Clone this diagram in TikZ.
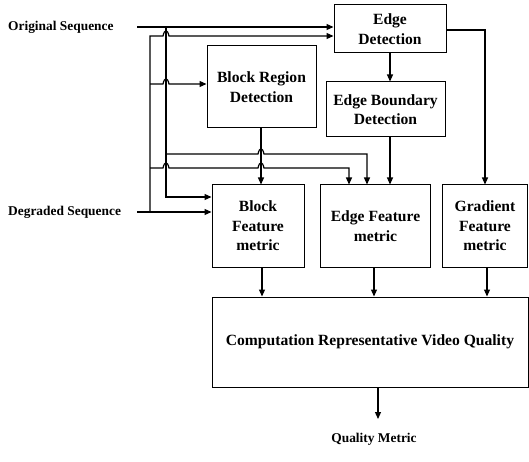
\documentclass[tikz,border=0pt]{standalone}
\usepackage{fontspec}
\setmainfont{Liberation Serif}
\usetikzlibrary{arrows.meta,calc}
\begin{document}
\begin{tikzpicture}[x=1pt,y=-1pt,
  box/.style args={#1/#2}{draw, line width=1pt, minimum width=#1pt, minimum height=#2pt,
    inner sep=0pt, align=center, font=\fontsize{15.6}{19.5}\selectfont\bfseries},
  lbl/.style={inner sep=0pt, font=\fontsize{13.4}{15}\selectfont\bfseries},
  arr/.style={line width=1.2pt, -{Triangle[length=7pt,width=6pt]}},
  ln/.style={line width=1.2pt}]
\useasboundingbox (0,0) rectangle (529,462);

% boxes
\node[box=112/48] (ed) at (390,29) {Edge\\Detection};
\node[box=109/82] (brd) at (261.5,87) {Block Region\\Detection};
\node[box=119/55] (ebd) at (385.5,109.5) {Edge Boundary\\Detection};
\node[box=92/82] (bfm) at (258,226) {Block\\Feature\\metric};
\node[box=110/82] (efm) at (375.5,226) {Edge Feature\\metric};
\node[box=85/82] (gfm) at (485,226) {Gradient\\Feature\\metric};
\node[box=316/90] (cvq) at (370,342) {Computation Representative Video Quality};

% labels
\node[lbl, anchor=west] (os) at (8,27) {Original Sequence};
\node[lbl, anchor=west] (ds) at (8,212) {Degraded Sequence};
\node[lbl] (qm) at (374,439) {Quality Metric};

% junction coordinates
\coordinate (o0) at (137,27);
\coordinate (d0) at (137,212);
\coordinate (va) at (166,27);
\coordinate (vb) at (150,212);

% original sequence
\draw[arr] (o0) -- (ed.west |- o0);
\draw[arr] (va) -- (166,197) -- (bfm.west |- 0,197);
\draw[arr] (166,154) -- (258,154) .. controls (259.5,147) and (262.5,147) .. (264,154)
  -- (367,154) -- (efm.north -| 367,0);

% degraded sequence
\draw[arr] (d0) -- (bfm.west |- d0);
\draw[arr] (vb) -- (150,36) -- (163,36) .. controls (164.5,29) and (167.5,29) .. (169,36)
  -- (ed.west |- 0,36);
\draw[arr] (150,84) -- (163,84) .. controls (164.5,77) and (167.5,77) .. (169,84)
  -- (brd.west |- 0,84);
\draw[arr] (150,168) -- (163,168) .. controls (164.5,161) and (167.5,161) .. (169,168)
  -- (258,168) .. controls (259.5,161) and (262.5,161) .. (264,168)
  -- (349,168) -- (efm.north -| 349,0);

% internal connectors
\draw[arr] (brd.south -| 261,0) -- (bfm.north -| 261,0);
\draw[arr] (ed.south) -- (ebd.north -| ed.south);
\draw[arr] (ebd.south -| ed.south) -- (efm.north -| ed.south);
\draw[arr] (ed.east |- 0,30) -- (485,30) -- (gfm.north -| 485,0);

% to computation
\draw[arr] (bfm.south -| 262,0) -- (cvq.north -| 262,0);
\draw[arr] (efm.south -| 374,0) -- (cvq.north -| 374,0);
\draw[arr] (gfm.south -| 487,0) -- (cvq.north -| 487,0);
\draw[arr] (cvq.south -| 378,0) -- (378,419);
\end{tikzpicture}
\end{document}
